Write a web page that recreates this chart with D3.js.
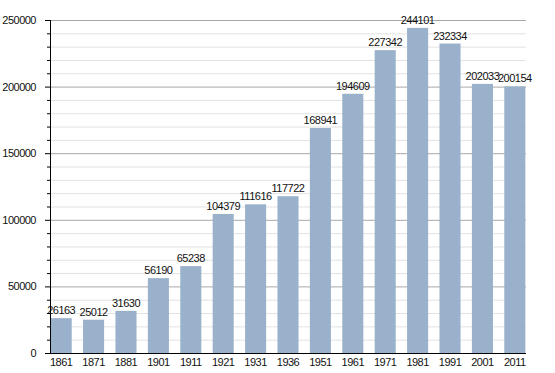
<!DOCTYPE html>
<html>
<head>
<meta charset="utf-8">
<script src="https://cdnjs.cloudflare.com/ajax/libs/d3/7.8.5/d3.min.js"></script>
<style>
  body { margin: 0; background: #fff; }
  text { font-family: "Liberation Sans", Arial, sans-serif; }
</style>
</head>
<body>
<div id="chart"></div>
<script>
// census years and population
var years = ["1861", "1871", "1881", "1901", "1911", "1921", "1931", "1936",
             "1951", "1961", "1971", "1981", "1991", "2001", "2011"];
var population = [26163, 25012, 31630, 56190, 65238, 104379, 111616, 117722,
                  168941, 194609, 227342, 244101, 232334, 202033, 200154];
var yTicks = [0, 50000, 100000, 150000, 200000, 250000];

var svgWidth = 555, svgHeight = 373;
var margin = { top: 20, right: 29, bottom: 20, left: 50 };
var width = svgWidth - margin.left - margin.right;
var height = svgHeight - margin.top - margin.bottom;

var svg = d3.select("#chart").append("svg")
    .attr("width", svgWidth)
    .attr("height", svgHeight);

var g = svg.append("g")
    .attr("transform", `translate(${margin.left}, ${margin.top})`);

var x = d3.scaleBand()
    .domain(years)
    .range([0, width])
    .paddingInner(0.35)
    .paddingOuter(0.02);

var y = d3.scaleLinear()
    .domain([0, 250000])
    .range([height, 0]);

// minor grid
var minor = d3.range(0, 250001, 10000).filter(d => d % 50000 != 0);
g.append("g").selectAll("line")
    .data(minor)
    .enter().append("line")
    .attr("x1", 0).attr("x2", width)
    .attr("y1", d => y(d) + 0.5).attr("y2", d => y(d) + 0.5)
    .style("stroke", "#e2e2e2");

// major grid
g.append("g").selectAll("line")
    .data(yTicks.slice(1))
    .enter().append("line")
    .attr("x1", 0).attr("x2", width)
    .attr("y1", d => y(d) + 0.5).attr("y2", d => y(d) + 0.5)
    .style("stroke", "#a8a8a8");

// bars
g.append("g").selectAll("rect")
    .data(population)
    .enter().append("rect")
    .attr("x", (d, i) => x(years[i]))
    .attr("y", d => y(d))
    .attr("width", x.bandwidth())
    .attr("height", d => height - y(d))
    .style("fill", "#9ab1cb");

// value labels
g.append("g").selectAll("text")
    .data(population)
    .enter().append("text")
    .attr("x", (d, i) => x(years[i]) + x.bandwidth() / 2)
    .attr("y", d => y(d) - 4)
    .attr("text-anchor", "middle")
    .style("font-size", "11px")
    .style("letter-spacing", "-0.5px")
    .style("fill", "#111")
    .text(d => d);

// y axis with minor ticks
var yAxis = g.append("g")
    .call(d3.axisLeft(y).tickValues(yTicks).tickSize(5).tickPadding(9).tickFormat(d3.format("d")));
yAxis.select(".domain").attr("d", `M0.5,${height}V0`);
yAxis.selectAll("text").style("font-size", "11px").style("letter-spacing", "-0.5px").style("fill", "#111");

g.append("g").selectAll("line")
    .data(minor)
    .enter().append("line")
    .attr("x1", -3).attr("x2", 0)
    .attr("y1", d => y(d) + 0.5).attr("y2", d => y(d) + 0.5)
    .style("stroke", "#000");

// x axis
var xAxis = g.append("g")
    .attr("transform", `translate(0, ${height})`)
    .call(d3.axisBottom(x).tickSize(0).tickPadding(5));
xAxis.select(".domain").attr("d", `M0,0.5H${width}`).style("stroke", "#000");
xAxis.selectAll("text").style("font-size", "11px").style("letter-spacing", "-0.5px").style("fill", "#111");
</script>
</body>
</html>
